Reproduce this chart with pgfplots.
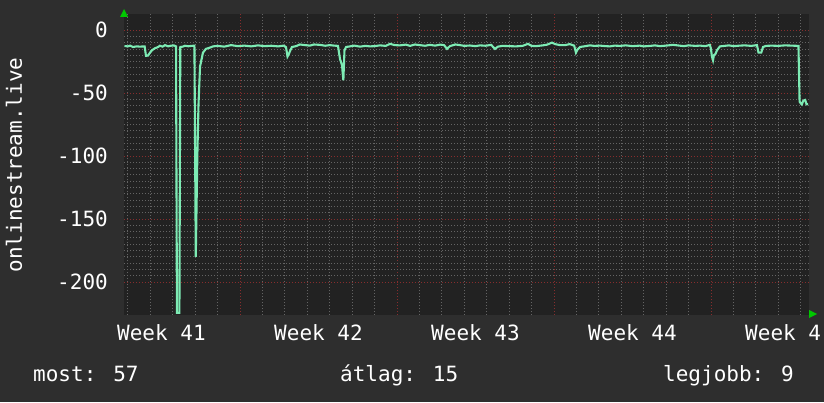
\documentclass[border=0pt]{standalone}
\usepackage{pgfplots}
\pgfplotsset{compat=1.18}
\usepackage{fontspec}
\setmainfont{DejaVu Sans Mono}

\definecolor{outerbg}{RGB}{46,46,46}
\definecolor{plotbg}{RGB}{34,34,34}
\definecolor{gridminor}{RGB}{100,100,100}
\definecolor{gridmajor}{RGB}{135,45,45}
\definecolor{series}{RGB}{125,235,180}
\definecolor{arrowgreen}{RGB}{0,200,0}

\newcommand{\bigfont}{\fontsize{21}{25}\selectfont}

\begin{document}
\begin{tikzpicture}
\fill[outerbg] (0,0) rectangle (824pt,402pt);

\begin{axis}[
    at={(124pt,87pt)}, anchor=south west,
    width=685pt, height=301pt, scale only axis,
    xmin=1.83, xmax=32.37,
    ymin=-226.2, ymax=12.7,
    axis background/.style={fill=plotbg},
    axis line style={draw=none},
    tick style={draw=none},
    font=\bigfont,
    xtick={0,7,14,21,28,35}, xticklabels={},
    minor x tick num=6,
    extra x ticks={3.5,10.5,17.5,24.5,31.5},
    extra x tick labels={Week 41,Week 42,Week 43,Week 44,Week 4\phantom{5}},
    extra x tick style={grid=none},
    xticklabel style={anchor=north, inner sep=0pt, yshift=-9pt, text=white},
    ytick={-200,-150,-100,-50,0},
    yticklabels={-200,-150,-100,-50,0},
    minor y tick num=9,
    yticklabel style={anchor=east, inner sep=0pt, xshift=-16pt, text=white},
    grid=both,
    major grid style={gridmajor, line width=0.8pt, dash pattern=on 1pt off 2pt},
    minor grid style={gridminor, line width=0.8pt, dash pattern=on 1pt off 2pt},
]
\addplot[series, line width=2.1pt, sharp plot] coordinates {
(1.85,-12.7) (2.00,-13.0) (2.10,-12.4) (2.23,-13.5) (2.40,-13.0) (2.54,-13.2)
(2.75,-13.0) (2.81,-20.5) (2.90,-20.3) (2.99,-18.0) (3.08,-16.0) (3.21,-14.5)
(3.35,-13.5) (3.43,-12.5) (3.55,-13.2) (3.66,-12.0) (3.80,-13.0) (3.88,-12.6)
(4.05,-12.2) (4.15,-13.0) (4.19,-224.5) (4.30,-224.5) (4.34,-13.5) (4.45,-13.2)
(4.55,-12.5) (4.70,-12.9) (4.85,-12.6) (4.97,-12.4) (5.03,-180) (5.10,-100)
(5.15,-60) (5.22,-29) (5.35,-18) (5.48,-15) (5.66,-14) (5.80,-13)
(6.0,-12.6) (6.3,-13.2) (6.6,-12.0) (6.9,-12.8) (7.2,-12.4) (7.5,-13.0)
(7.8,-12.2) (8.1,-12.8) (8.4,-12.5) (8.7,-13.0) (8.95,-12.4) (9.05,-13.5)
(9.12,-21) (9.18,-19) (9.25,-16) (9.32,-13.5) (9.5,-12.8) (9.67,-11.5)
(9.9,-12.0) (10.12,-12.4) (10.3,-11.5) (10.57,-11.8) (10.8,-12.5) (11.0,-12.0)
(11.2,-12.4) (11.37,-12.6) (11.46,-23) (11.55,-28) (11.61,-40) (11.66,-16)
(11.73,-13.5) (11.9,-13.0) (12.1,-12.4) (12.35,-13.2) (12.6,-12.6) (12.8,-13.0)
(13.0,-12.8) (13.24,-12.2) (13.5,-12.6) (13.69,-11.0) (13.9,-12.0) (14.13,-12.2)
(14.4,-11.6) (14.58,-12.6) (14.8,-11.5) (15.02,-12.0) (15.25,-12.5) (15.47,-11.8)
(15.7,-12.4) (15.92,-11.6) (16.1,-12.0) (16.23,-15.0) (16.36,-12.8) (16.6,-11.5)
(16.81,-12.0) (17.0,-12.6) (17.25,-12.3) (17.5,-12.8) (17.7,-12.2) (17.95,-12.5)
(18.2,-11.8) (18.37,-15.0) (18.5,-13.2) (18.7,-12.6) (19.0,-12.8) (19.3,-13.0)
(19.6,-12.6) (19.84,-11.0) (20.0,-12.6) (20.2,-12.8) (20.5,-12.2) (20.7,-11.6)
(20.91,-10.0) (21.05,-11.2) (21.27,-12.0) (21.5,-12.0) (21.7,-11.2) (21.9,-12.4)
(21.98,-18.0) (22.05,-15.5) (22.16,-13.5) (22.4,-12.8) (22.6,-12.2) (22.8,-12.6)
(23.05,-12.4) (23.3,-12.8) (23.5,-13.0) (23.7,-12.4) (23.94,-12.6) (24.2,-12.2)
(24.5,-12.8) (24.83,-12.4) (25.0,-13.0) (25.3,-12.6) (25.5,-12.2) (25.72,-12.8)
(26.0,-12.4) (26.3,-11.8) (26.6,-12.4) (26.8,-12.8) (27.0,-12.2) (27.3,-12.6)
(27.51,-12.4) (27.75,-12.8) (27.95,-11.8) (28.0,-15) (28.04,-21) (28.09,-24)
(28.13,-20) (28.2,-19) (28.27,-16) (28.4,-13) (28.6,-12.6) (28.8,-12.2)
(29.0,-12.8) (29.29,-12.4) (29.5,-12.2) (29.8,-12.6) (30.05,-12.0) (30.12,-18)
(30.24,-18) (30.32,-13.5) (30.45,-12.6) (30.7,-12.4) (31.0,-12.6) (31.3,-12.2)
(31.6,-12.4) (31.9,-12.6) (31.95,-57) (32.05,-59) (32.12,-56) (32.2,-55.5)
(32.26,-59) (32.33,-58.8)
};
\end{axis}

% axis arrow heads
\fill[arrowgreen] (120pt,385pt) -- (128pt,385pt) -- (124pt,393pt) -- cycle;
\fill[arrowgreen] (809pt,84pt) -- (809pt,92pt) -- (817pt,88pt) -- cycle;

\node[rotate=90, text=white, font=\bigfont] at (14pt,237pt) {onlinestream.live};
\node[anchor=base west, inner sep=0pt, text=white, font=\bigfont] at (33pt,21pt) {most: 57};
\node[anchor=base west, inner sep=0pt, text=white, font=\bigfont] at (340pt,21pt) {átlag: 15};
\node[anchor=base west, inner sep=0pt, text=white, font=\bigfont] at (663pt,21pt) {legjobb: 9};

\pgfresetboundingbox
\useasboundingbox (0,0) rectangle (824pt,402pt);
\end{tikzpicture}
\end{document}
